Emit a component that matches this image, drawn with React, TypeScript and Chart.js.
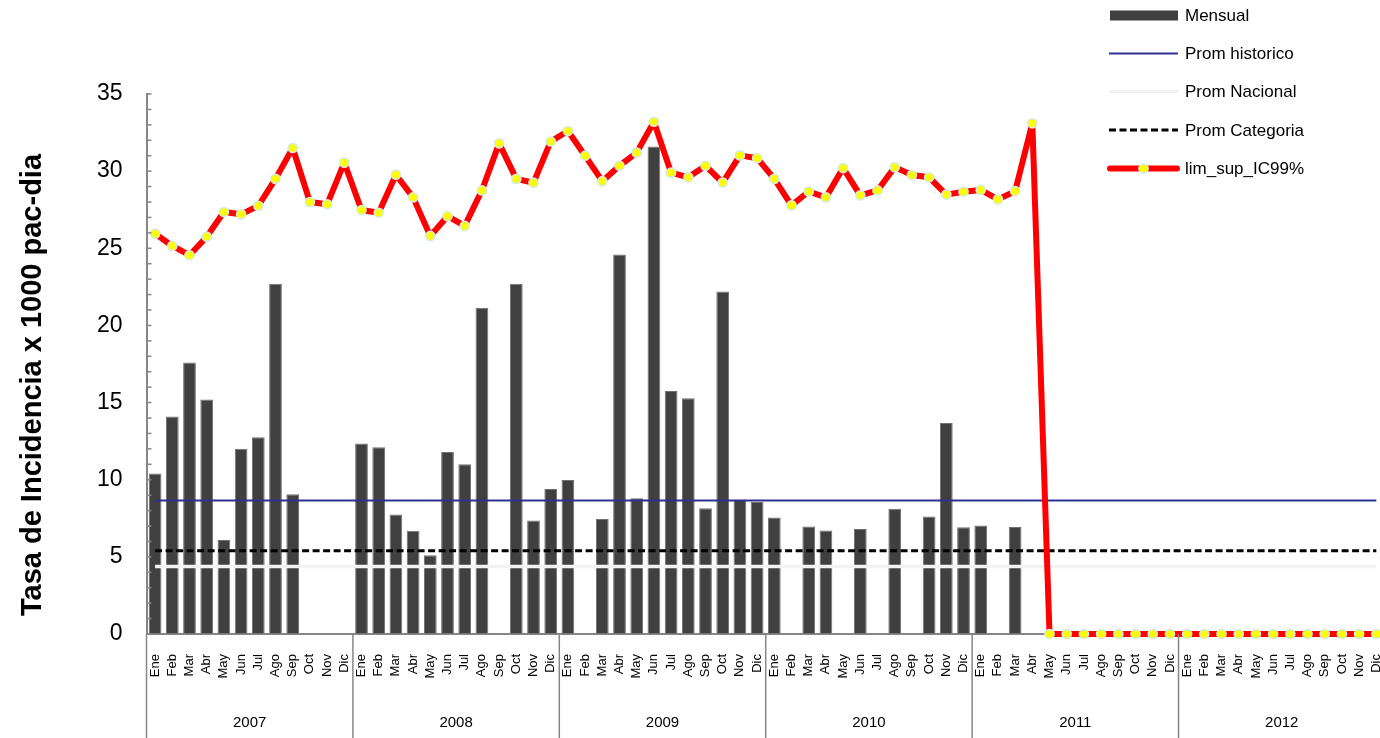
import React, { useEffect, useRef } from "react";
import { Chart, registerables } from "chart.js";

Chart.register(...registerables);

const YEARS = ["2007", "2008", "2009", "2010", "2011", "2012"];
const MONTHS = ["Ene", "Feb", "Mar", "Abr", "May", "Jun", "Jul", "Ago", "Sep", "Oct", "Nov", "Dic"];
const Y_TICKS = [0, 5, 10, 15, 20, 25, 30, 35];

// Mensual (bars) per year
const MENSUAL_2007 = [10.4, 14.1, 17.6, 15.2, 6.1, 12.0, 12.75, 22.7, 9.05, null, null, null];
const MENSUAL_2008 = [12.35, 12.1, 7.75, 6.7, 5.1, 11.8, 11.0, 21.15, null, 22.7, 7.35, 9.4];
const MENSUAL_2009 = [9.98, null, 7.45, 24.6, 8.8, 31.6, 15.75, 15.28, 8.15, 22.2, 8.7, 8.55];
const MENSUAL_2010 = [7.55, null, 6.97, 6.71, null, 6.8, null, 8.12, null, 7.62, 13.68, 6.92];
const MENSUAL_2011 = [7.04, null, 6.93, null, null, null, null, null, null, null, null, null];
const MENSUAL_2012 = [null, null, null, null, null, null, null, null, null, null, null, null];

// lim_sup_IC99% per year
const LIM_2007 = [25.95, 25.15, 24.55, 25.75, 27.35, 27.2, 27.75, 29.5, 31.5, 28.0, 27.85, 30.55];
const LIM_2008 = [27.48, 27.3, 29.77, 28.3, 25.8, 27.08, 26.45, 28.75, 31.8, 29.5, 29.25, 31.92];
const LIM_2009 = [32.6, 31.0, 29.35, 30.35, 31.2, 33.2, 29.9, 29.6, 30.35, 29.26, 31.02, 30.84];
const LIM_2010 = [29.5, 27.78, 28.68, 28.3, 30.2, 28.43, 28.75, 30.26, 29.75, 29.6, 28.48, 28.66];
const LIM_2011 = [28.78, 28.17, 28.7, 33.1, 0, 0, 0, 0, 0, 0, 0, 0];
const LIM_2012 = [0, 0, 0, 0, 0, 0, 0, 0, 0, 0, 0, 0];

const PROM_HISTORICO = 8.65;
const PROM_NACIONAL = 4.38;
const PROM_CATEGORIA = 5.4;

const LABELS = YEARS.flatMap(() => MONTHS);
const MENSUAL = [...MENSUAL_2007, ...MENSUAL_2008, ...MENSUAL_2009, ...MENSUAL_2010, ...MENSUAL_2011, ...MENSUAL_2012];
const LIM_SUP = [...LIM_2007, ...LIM_2008, ...LIM_2009, ...LIM_2010, ...LIM_2011, ...LIM_2012];
const N = LABELS.length;

const FONT = "'Liberation Sans', Arial, Helvetica, sans-serif";
const AXIS_GRAY = "#868686";
const BAR_COLOR = "#404040";
const BLUE = "#2e3192";
const NACIONAL_COLOR = "#f2f2f2";
const RED = "#ff0000";
const YELLOW = "#ffff00";
const POINT_BORDER = "#d3eaea";

const CANVAS_W = 1400;
const CANVAS_H = 738;
const AREA_LEFT = 146.5;
const AREA_RIGHT = 1390;
const AREA_TOP = 94;
const AREA_BOTTOM = 634;

const decorPlugin = {
  id: "decor",
  afterDraw(chart: any) {
    const { ctx, chartArea, scales } = chart;
    const xs = scales.x;
    const ys = scales.y;
    ctx.save();

    // minor ticks on y axis (inside)
    ctx.strokeStyle = AXIS_GRAY;
    ctx.lineWidth = 1.5;
    for (let v = 0; v <= 35; v++) {
      const py = ys.getPixelForValue(v);
      ctx.beginPath();
      ctx.moveTo(chartArea.left, py);
      ctx.lineTo(chartArea.left + 5, py);
      ctx.stroke();
    }

    // year separators and labels
    const cw = xs.width / N;
    ctx.strokeStyle = AXIS_GRAY;
    ctx.lineWidth = 1.5;
    for (let i = 0; i <= YEARS.length; i++) {
      const bx = xs.left + i * 12 * cw;
      ctx.beginPath();
      ctx.moveTo(bx, chartArea.bottom);
      ctx.lineTo(bx, CANVAS_H);
      ctx.stroke();
    }
    ctx.fillStyle = "#000";
    ctx.font = `15px ${FONT}`;
    ctx.textAlign = "center";
    ctx.textBaseline = "middle";
    YEARS.forEach((yr, i) => {
      const cx = xs.left + (i * 12 + 6) * cw;
      ctx.fillText(yr, cx, 723);
    });

    // y title
    ctx.save();
    ctx.translate(33, 385);
    ctx.rotate(-Math.PI / 2);
    ctx.font = `bold 29px ${FONT}`;
    ctx.textAlign = "center";
    ctx.textBaseline = "middle";
    ctx.fillText("Tasa de Incidencia x 1000 pac-dia", 0, 0);
    ctx.restore();

    // legend
    const lx0 = 1109;
    const lx1 = 1178;
    const tx = 1185;
    const rows = [15.5, 53.5, 91.5, 130, 168.5];
    ctx.font = `17px ${FONT}`;
    ctx.textAlign = "left";
    ctx.textBaseline = "middle";
    // Mensual
    ctx.fillStyle = BAR_COLOR;
    ctx.fillRect(lx0 + 1, rows[0] - 5, lx1 - lx0 - 1, 10);
    // Prom historico
    ctx.strokeStyle = BLUE;
    ctx.lineWidth = 2;
    ctx.beginPath();
    ctx.moveTo(lx0, rows[1]);
    ctx.lineTo(lx1, rows[1]);
    ctx.stroke();
    // Prom Nacional
    ctx.strokeStyle = NACIONAL_COLOR;
    ctx.lineWidth = 3;
    ctx.beginPath();
    ctx.moveTo(lx0, rows[2]);
    ctx.lineTo(lx1, rows[2]);
    ctx.stroke();
    // Prom Categoria
    ctx.strokeStyle = "#000";
    ctx.lineWidth = 3;
    ctx.setLineDash([7, 3.5]);
    ctx.beginPath();
    ctx.moveTo(lx0, rows[3]);
    ctx.lineTo(lx1, rows[3]);
    ctx.stroke();
    ctx.setLineDash([]);
    // lim_sup
    ctx.strokeStyle = RED;
    ctx.lineWidth = 6;
    ctx.lineCap = "round";
    ctx.beginPath();
    ctx.moveTo(lx0 + 1, rows[4]);
    ctx.lineTo(lx1 - 1, rows[4]);
    ctx.stroke();
    ctx.lineCap = "butt";
    ctx.fillStyle = YELLOW;
    ctx.strokeStyle = POINT_BORDER;
    ctx.lineWidth = 1.5;
    ctx.beginPath();
    ctx.arc((lx0 + lx1) / 2, rows[4], 4.6, 0, Math.PI * 2);
    ctx.fill();
    ctx.stroke();

    ctx.fillStyle = "#000";
    const names = ["Mensual", "Prom historico", "Prom Nacional", "Prom Categoria", "lim_sup_IC99%"];
    names.forEach((t, i) => ctx.fillText(t, tx, rows[i] + 1));

    ctx.restore();
  },
};

export default function App() {
  const canvasRef = useRef<HTMLCanvasElement | null>(null);

  useEffect(() => {
    const canvas = canvasRef.current;
    if (!canvas) return;
    document.body.style.margin = "0";
    Chart.defaults.font.family = FONT;
    Chart.defaults.color = "#000";

    const chart = new Chart(canvas, {
      type: "bar",
      data: {
        labels: LABELS,
        datasets: [
          {
            type: "bar",
            label: "Mensual",
            data: MENSUAL,
            backgroundColor: BAR_COLOR,
            borderColor: "#707070",
            borderWidth: 1,
            barPercentage: 0.74,
            categoryPercentage: 1,
            order: 5,
          },
          {
            type: "line",
            label: "Prom historico",
            data: LABELS.map(() => PROM_HISTORICO),
            borderColor: BLUE,
            borderWidth: 2,
            pointRadius: 0,
            order: 4,
          },
          {
            type: "line",
            label: "Prom Nacional",
            data: LABELS.map(() => PROM_NACIONAL),
            borderColor: NACIONAL_COLOR,
            borderWidth: 3.5,
            pointRadius: 0,
            order: 3,
          },
          {
            type: "line",
            label: "Prom Categoria",
            data: LABELS.map(() => PROM_CATEGORIA),
            borderColor: "#000",
            borderWidth: 3,
            borderDash: [7, 3.5],
            pointRadius: 0,
            order: 2,
          },
          {
            type: "line",
            label: "lim_sup_IC99%",
            data: LIM_SUP,
            borderColor: RED,
            borderWidth: 6,
            borderJoinStyle: "round",
            pointRadius: 4.6,
            pointBackgroundColor: YELLOW,
            pointBorderColor: POINT_BORDER,
            pointBorderWidth: 1.5,
            tension: 0,
            clip: false,
            order: 1,
          },
        ],
      } as any,
      plugins: [decorPlugin],
      options: {
        animation: false,
        responsive: false,
        maintainAspectRatio: false,
        devicePixelRatio: 1,
        layout: {
          padding: { left: 0, right: CANVAS_W - AREA_RIGHT, top: AREA_TOP, bottom: 0 },
        },
        plugins: {
          legend: { display: false },
          tooltip: { enabled: false },
          title: { display: false },
        },
        scales: {
          x: {
            type: "category",
            offset: true,
            grid: { display: false, drawOnChartArea: false, drawTicks: true, tickLength: 12 },
            border: { display: true, color: AXIS_GRAY, width: 2 },
            ticks: {
              autoSkip: false,
              minRotation: 90,
              maxRotation: 90,
              padding: 8,
              color: "#000",
              font: { size: 13, family: FONT },
            },
            afterFit(scale: any) {
              scale.height = CANVAS_H - AREA_BOTTOM;
            },
          },
          y: {
            type: "linear",
            min: 0,
            max: 35,
            afterBuildTicks(scale: any) {
              scale.ticks = Y_TICKS.map((v) => ({ value: v }));
            },
            grid: { display: true, drawOnChartArea: false, drawTicks: false },
            border: { display: true, color: AXIS_GRAY, width: 2 },
            ticks: {
              padding: 24,
              color: "#000",
              font: { size: 23, family: FONT },
            },
            afterFit(scale: any) {
              scale.width = AREA_LEFT;
            },
          },
        },
      } as any,
    });
    return () => chart.destroy();
  }, []);

  return (
    <div
      style={{
        position: "fixed",
        left: 0,
        top: 0,
        width: 1380,
        height: CANVAS_H,
        overflow: "hidden",
        background: "#fff",
      }}
    >
      <canvas ref={canvasRef} width={CANVAS_W} height={CANVAS_H} style={{ display: "block", width: CANVAS_W, height: CANVAS_H }} />
    </div>
  );
}
